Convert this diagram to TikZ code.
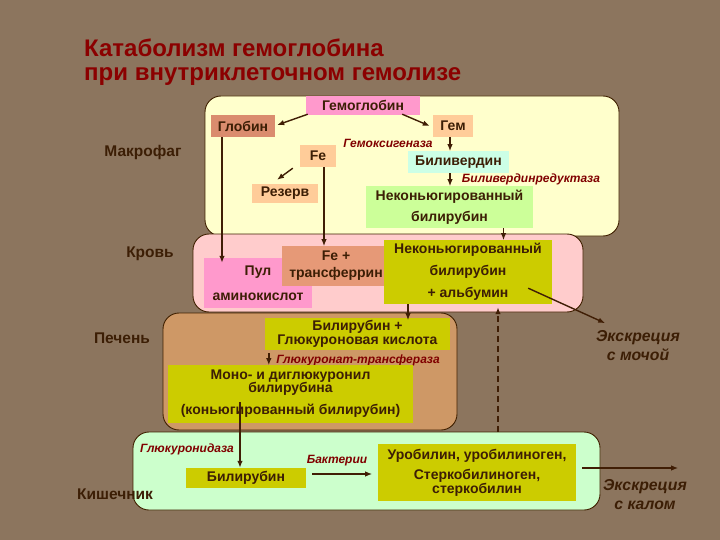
\documentclass[tikz,border=0pt]{standalone}
\usepackage{fontspec}
\setmainfont{Liberation Sans}
\usetikzlibrary{arrows.meta,calc}
\definecolor{bg}{RGB}{140,117,94}
\definecolor{brd}{RGB}{64,32,0}
\definecolor{txt}{RGB}{60,30,5}
\definecolor{enzc}{RGB}{128,0,0}
\definecolor{ttl}{RGB}{139,0,0}
\definecolor{arrc}{RGB}{64,30,5}
\definecolor{macf}{RGB}{255,255,204}
\definecolor{blof}{RGB}{255,204,204}
\definecolor{livf}{RGB}{206,152,102}
\definecolor{intf}{RGB}{204,255,204}
\definecolor{pinkb}{RGB}{255,153,204}
\definecolor{salm}{RGB}{218,140,110}
\definecolor{peach}{RGB}{255,204,153}
\definecolor{cyanb}{RGB}{204,255,230}
\definecolor{lgreen}{RGB}{204,255,153}
\definecolor{fetrc}{RGB}{230,153,119}
\definecolor{olive}{RGB}{204,204,0}
\begin{document}
\begin{tikzpicture}[x=1pt,y=-1pt,
  region/.style={draw=brd, line width=0.9pt, rounded corners=16pt, inner sep=0pt},
  bx/.style={inner sep=0pt, align=center, text=txt, font=\bfseries\fontsize{14}{14}\selectfont},
  enz/.style={text=enzc, inner sep=0pt, font=\bfseries\itshape\fontsize{12}{13}\selectfont},
  side/.style={text=txt, inner sep=0pt, font=\bfseries\fontsize{15.5}{17}\selectfont},
  exc/.style={text=txt, inner sep=0pt, align=center, font=\bfseries\itshape\fontsize{15.8}{19}\selectfont},
  ttlst/.style={text=ttl, inner sep=0pt, anchor=base west, font=\bfseries\fontsize{24}{26}\selectfont},
  arr/.style={draw=arrc, line width=1.4pt, -{Latex[length=7pt,width=5.5pt]}},
  darr/.style={arr, dashed, dash pattern=on 6pt off 4pt}
]
\fill[bg] (0,0) rectangle (720,540);
\useasboundingbox (0,0) rectangle (720,540);

% title
\node[ttlst] (t1) at (84,57) {Катаболизм гемоглобина};
\node[ttlst] (t2) at (84,81) {при внутриклеточном гемолизе};

% regions
\node[region, fill=macf, minimum width=414pt, minimum height=140pt] (macro) at (412,166) {};
\node[region, fill=blof, minimum width=390pt, minimum height=78pt] (blood) at (388,273) {};
\node[region, fill=livf, minimum width=294pt, minimum height=117pt] (liver) at (310,371.5) {};
\node[region, fill=intf, minimum width=467pt, minimum height=78pt] (intest) at (366.5,471) {};

% side labels
\node[side] (lmac) at (143,152) {Макрофаг};
\node[side] (lblo) at (150,254) {Кровь};
\node[side] (lliv) at (122,338) {Печень};
\node[side] (lint) at (115,494) {Кишечник};

% macrophage boxes
\node[bx, fill=pinkb, minimum width=114pt, minimum height=19pt] (hemo) at (363,105.5) {Гемоглобин};
\node[bx, fill=salm, minimum width=64pt, minimum height=22pt] (glob) at (243,126) {Глобин};
\node[bx, fill=peach, minimum width=40pt, minimum height=22pt] (gem) at (453,126) {Гем};
\node[bx, fill=peach, minimum width=36pt, minimum height=22pt] (fe) at (318,156) {Fe};
\node[bx, fill=cyanb, minimum width=101pt, minimum height=22pt] (biliv) at (458.5,162) {Биливердин};
\node[bx, fill=peach, minimum width=66pt, minimum height=19pt] (rez) at (285,193.5) {Резерв};
\node[bx, fill=lgreen, minimum width=167pt, minimum height=42pt] (nebil) at (449.5,207) {Неконьюгированный\\[7pt]билирубин};
\node[enz] (e1) at (388,143) {Гемоксигеназа};
\node[enz] (e2) at (531,179) {Биливердинредуктаза};

% blood boxes
\node[bx, fill=pinkb, minimum width=108pt, minimum height=50pt] (pul) at (258,283) {Пул\\[11pt]аминокислот};
\node[bx, fill=fetrc, minimum width=108pt, minimum height=40pt] (fetr) at (336,266) {Fe +\\[3pt]трансферрин};
\node[bx, fill=olive, minimum width=168pt, minimum height=64pt] (alb) at (468,272) {Неконьюгированный\\[8pt]билирубин\\[8pt]+ альбумин};

% liver boxes
\node[bx, fill=olive, minimum width=185pt, minimum height=32pt] (glu) at (357.5,334) {Билирубин +\\Глюкуроновая кислота};
\node[enz] (e3) at (358,360) {Глюкуронат-трансфераза};
\node[bx, fill=olive, minimum width=245pt, minimum height=58pt] (mono) at (290.5,394) {Моно- и диглюкуронил\\[-1pt]билирубина\\[8pt](коньюгированный билирубин)};

% intestine boxes
\node[enz] (e4) at (187,449) {Глюкуронидаза};
\node[bx, fill=olive, minimum width=120pt, minimum height=20pt] (bil2) at (246,478) {Билирубин};
\node[enz] (e5) at (337,461) {Бактерии};
\node[bx, fill=olive, minimum width=198pt, minimum height=57pt] (uro) at (477,472.5) {Уробилин, уробилиноген,\\[6pt]Стеркобилиноген,\\[0pt]стеркобилин};

% excretion labels
\node[exc] (urine) at (638,346) {Экскреция\\с мочой};
\node[exc] (feces) at (645,495) {Экскреция\\с калом};

% arrows
\draw[arr] ($(hemo.south west)+(2,-1)$) -- ($(glob.east)+(2,-1)$);
\draw[arr] ($(hemo.south east)+(-18,-1)$) -- ($(gem.west)+(-3,0)$);
\draw[arr] ($(gem.south)+(-3,0)$) -- ++(0,14);
\draw[arr] ($(biliv.south)+(-8.5,0)$) -- ++(0,13);
\draw[arr] ($(fe.south west)+(-7,1)$) -- ($(rez.north)+(-8,-4)$);
\draw[arr] ($(glob.south)+(-21,0)$) -- ($(pul.north)+(-36,5)$);
\draw[arr] ($(fe.south)+(6,0)$) -- ++(0,79);
\draw[arr] ($(nebil.south)+(54,0)$) -- ++(0,12);
\draw[arr] ($(alb.south east)+(-24,-16)$) -- ++(77,35);
\draw[arr] ($(alb.south)+(-60,0)$) -- ++(0,16);
\coordinate (dst) at ($(intest.north)+(131.5,0)$);
\draw[darr] (dst) -- ($(alb.south)+(30,3)$);
\draw[arr] ($(glu.south west)+(4,3)$) -- ++(0,12);
\draw[arr] ($(mono.center)+(-50.5,8)$) -- ($(bil2.north)+(-6,0)$);
\draw[arr] ($(bil2.east)+(6,-4)$) -- ++(60,0);
\draw[arr] ($(uro.east)+(6,-4.5)$) -- ++(96,0);
\end{tikzpicture}
\end{document}
